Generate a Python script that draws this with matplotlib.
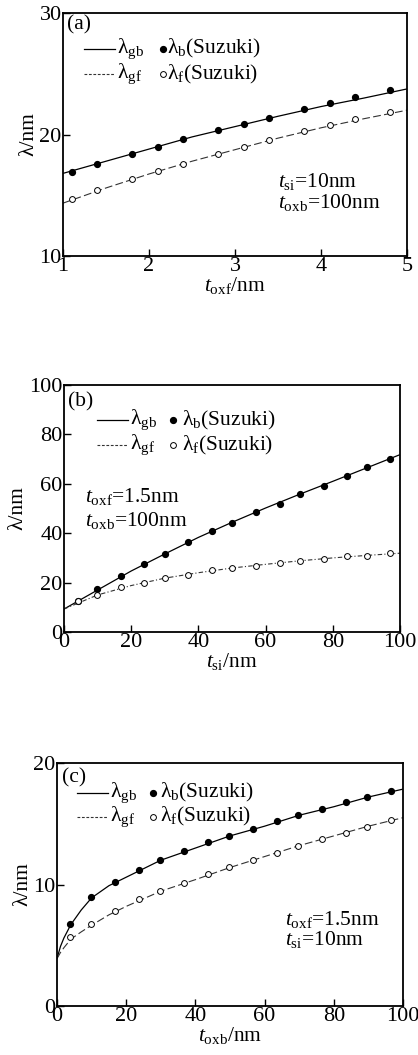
import matplotlib
matplotlib.use("Agg")
import matplotlib.pyplot as plt
import numpy as np

plt.rcParams['font.family'] = ['Liberation Serif', 'DejaVu Serif']
plt.rcParams['mathtext.fontset'] = 'custom'
plt.rcParams['mathtext.rm'] = 'Liberation Serif'
plt.rcParams['mathtext.it'] = 'Liberation Serif:italic'
plt.rcParams['mathtext.bf'] = 'Liberation Serif:bold'

# ---------------- Data ----------------
# (a) vs t_oxf
a_line_x = [1.0, 1.5, 2.0, 2.5, 3.0, 3.5, 4.0, 4.5, 5.0]
a_gb_line = [16.8, 17.8, 18.8, 19.8, 20.65, 21.5, 22.3, 23.0, 23.75]
a_gf_line = [14.35, 15.6, 16.75, 17.8, 18.75, 19.7, 20.55, 21.3, 22.0]
a_pt_x = [1.1, 1.4, 1.8, 2.1, 2.4, 2.8, 3.1, 3.4, 3.8, 4.1, 4.4, 4.8]
a_b_pts = [16.95, 17.58, 18.41, 19.01, 19.62, 20.33, 20.88, 21.35, 22.09, 22.58, 23.08, 23.63]
a_f_pts = [14.67, 15.44, 16.35, 17.0, 17.61, 18.41, 18.98, 19.53, 20.27, 20.82, 21.26, 21.87]

# (b) vs t_si
b_line_x = [0, 10, 20, 30, 40, 50, 60, 70, 80, 90, 100]
b_gb_line = [9.3, 17.0, 24.7, 31.6, 38.3, 44.4, 50.2, 55.7, 61.0, 66.4, 71.8]
b_gf_line = [9.3, 15.0, 18.8, 21.8, 24.0, 25.9, 27.4, 28.8, 30.0, 31.0, 31.9]
b_pt_x = [4.2, 9.9, 17.1, 23.9, 30.2, 37.0, 44.1, 50.1, 57.2, 64.3, 70.3, 77.4, 84.3, 90.3, 97.1]
b_b_pts = [12.7, 17.3, 22.8, 27.6, 31.6, 36.4, 40.7, 44.2, 48.4, 51.9, 55.7, 59.2, 63.0, 66.8, 70.1]
b_f_pts = [12.6, 14.9, 18.1, 19.7, 21.8, 23.0, 24.9, 25.9, 26.9, 28.0, 28.8, 29.6, 30.7, 30.9, 32.0]

# (c) vs t_oxb
c_line_x = [0, 1, 2, 4, 7, 10, 15, 20, 30, 40, 50, 60, 70, 80, 90, 100]
c_gb_line = [3.9, 4.9, 5.6, 6.7, 7.9, 8.9, 9.9, 10.6, 12.0, 13.0, 14.0, 14.8, 15.7, 16.4, 17.2, 17.85]
c_gf_line = [3.9, 4.4, 4.8, 5.5, 6.1, 6.65, 7.5, 8.2, 9.45, 10.4, 11.4, 12.3, 13.2, 14.0, 14.8, 15.5]
c_pt_x = [3.9, 9.9, 16.9, 23.7, 29.7, 36.8, 43.7, 49.6, 56.6, 63.5, 69.6, 76.5, 83.5, 89.5, 96.4]
c_b_pts = [6.75, 8.94, 10.23, 11.22, 11.99, 12.73, 13.47, 14.02, 14.57, 15.25, 15.72, 16.24, 16.79, 17.23, 17.72]
c_f_pts = [5.65, 6.72, 7.79, 8.78, 9.44, 10.1, 10.84, 11.44, 11.99, 12.62, 13.17, 13.74, 14.27, 14.76, 15.28]

panels = [
    dict(rect=[63/418, (1055-256)/1055, 344/418, 243/1055], lx=a_line_x, gb=a_gb_line, gf=a_gf_line,
         px=a_pt_x, bp=a_b_pts, fp=a_f_pts, xlim=(1, 5), ylim=(10, 30), xt=[1, 2, 3, 4, 5], yt=[10, 20, 30],
         xlabel=r'$t_{\rm oxf}$/nm', tag='(a)', tagpos=(0.012, 0.95),
         leg=dict(y1=0.852, y2=0.749, l0=0.061, l1=0.151, t1=0.157, d=0.291, t2=0.302),
         ann=[r'$t_{\rm si}$=10nm', r'$t_{\rm oxb}$=100nm'], annpos=(0.625, 0.305, 0.222),
         gfstyle=(0, (7, 3))),
    dict(rect=[64/418, (1055-632)/1055, 336/418, 247/1055], lx=b_line_x, gb=b_gb_line, gf=b_gf_line,
         px=b_pt_x, bp=b_b_pts, fp=b_f_pts, xlim=(0, 100), ylim=(0, 100), xt=[0, 20, 40, 60, 80, 100],
         yt=[0, 20, 40, 60, 80, 100],
         xlabel=r'$t_{\rm si}$/nm', tag='(b)', tagpos=(0.012, 0.93),
         leg=dict(y1=0.858, y2=0.757, l0=0.098, l1=0.19, t1=0.196, d=0.325, t2=0.35),
         ann=[r'$t_{\rm oxf}$=1.5nm', r'$t_{\rm oxb}$=100nm'], annpos=(0.063, 0.547, 0.453),
         gfstyle=(0, (4, 2, 1, 2))),
    dict(rect=[57/418, (1055-1006)/1055, 346/418, 243/1055], lx=c_line_x, gb=c_gb_line, gf=c_gf_line,
         px=c_pt_x, bp=c_b_pts, fp=c_f_pts, xlim=(0, 100), ylim=(0, 20), xt=[0, 20, 40, 60, 80, 100],
         yt=[0, 10, 20],
         xlabel=r'$t_{\rm oxb}$/nm', tag='(c)', tagpos=(0.014, 0.94),
         leg=dict(y1=0.877, y2=0.778, l0=0.058, l1=0.147, t1=0.153, d=0.277, t2=0.298),
         ann=[r'$t_{\rm oxf}$=1.5nm', r'$t_{\rm si}$=10nm'], annpos=(0.659, 0.358, 0.272),
         gfstyle=(0, (7, 3))),
]

fig = plt.figure(figsize=(4.18, 10.55), dpi=100)
FS_TICK = 16
FS_TXT = 15.5

for p in panels:
    ax = fig.add_axes(p['rect'])
    ax.plot(p['lx'], p['gb'], color='black', lw=0.9, solid_capstyle='butt')
    ax.plot(p['lx'], p['gf'], color='#333333', lw=0.8, linestyle=p['gfstyle'])
    ax.plot(p['px'], p['bp'], 'o', color='black', ms=4.2, mec='black')
    ax.plot(p['px'], p['fp'], 'o', mfc='white', mec='black', ms=4.2, mew=0.7)
    ax.set_xlim(*p['xlim'])
    ax.set_ylim(*p['ylim'])
    ax.set_xticks(p['xt'])
    ax.set_yticks(p['yt'])
    ax.tick_params(direction='in', length=5, width=1.0, labelsize=FS_TICK, pad=1,
                   top=False, right=False)
    for s in ax.spines.values():
        s.set_linewidth(1.3)
    ax.set_xlabel(p['xlabel'], fontsize=FS_TXT, labelpad=-1)
    ax.set_ylabel('λ/nm', fontsize=FS_TXT, labelpad=1)
    ax.text(p['tagpos'][0], p['tagpos'][1], p['tag'], transform=ax.transAxes,
            fontsize=FS_TXT, va='center', ha='left')
    L = p['leg']
    tr = ax.transAxes
    ax.plot([L['l0'], L['l1']], [L['y1'], L['y1']], transform=tr, color='black', lw=0.9)
    ax.plot([L['l0'], L['l1']], [L['y2'], L['y2']], transform=tr, color='#333333', lw=0.8,
            linestyle=(0, (2.5, 1.5)))
    ax.text(L['t1'], L['y1'], 'λ$_{\\rm gb}$', transform=tr, fontsize=FS_TXT, va='center')
    ax.text(L['t1'], L['y2'], 'λ$_{\\rm gf}$', transform=tr, fontsize=FS_TXT, va='center')
    ax.plot([L['d']], [L['y1']], 'o', transform=tr, color='black', ms=4.2)
    ax.plot([L['d']], [L['y2']], 'o', transform=tr, mfc='white', mec='black', ms=4.2, mew=0.7)
    ax.text(L['t2'], L['y1'], 'λ$_{\\rm b}$(Suzuki)', transform=tr, fontsize=FS_TXT, va='center')
    ax.text(L['t2'], L['y2'], 'λ$_{\\rm f}$(Suzuki)', transform=tr, fontsize=FS_TXT, va='center')
    ax0, y1, y2 = p['annpos']
    ax.text(ax0, y1, p['ann'][0], transform=tr, fontsize=FS_TXT, va='center')
    ax.text(ax0, y2, p['ann'][1], transform=tr, fontsize=FS_TXT, va='center')

fig.savefig('out.png', dpi=100)
